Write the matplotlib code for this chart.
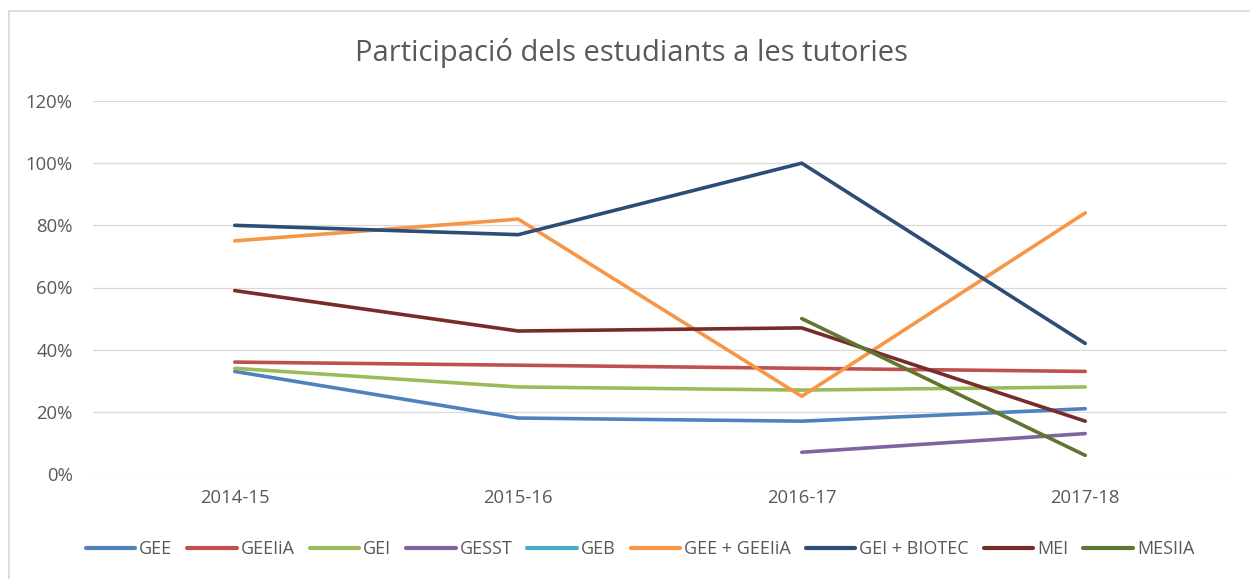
import numpy as np
import matplotlib
matplotlib.use("Agg")
import matplotlib.pyplot as plt
from matplotlib.lines import Line2D
from matplotlib.ticker import FuncFormatter

nan = np.nan
categories = ["2014-15", "2015-16", "2016-17", "2017-18"]
legend_labels = ["GEE", "GEEIiA", "GEI", "GESST", "GEB", "GEE + GEEIiA", "GEI + BIOTEC", "MEI", "MESIIA"]
gee = [0.33, 0.18, 0.17, 0.21]
geeiia = [0.36, 0.35, 0.34, 0.33]
gei = [0.34, 0.28, 0.27, 0.28]
gesst = [nan, nan, 0.07, 0.13]
geb = [nan, nan, nan, nan]
gee_geeiia = [0.75, 0.82, 0.25, 0.84]
gei_biotec = [0.80, 0.77, 1.00, 0.42]
mei = [0.59, 0.46, 0.47, 0.17]
mesiia = [nan, nan, 0.50, 0.06]
values = [gee, geeiia, gei, gesst, geb, gee_geeiia, gei_biotec, mei, mesiia]
colors = ["#4F81BD", "#C0504D", "#9BBB59", "#8064A2", "#4BACC6", "#F79646", "#2C4D75", "#772C2A", "#5F7530"]
title = "Participació dels estudiants a les tutories"
yticks = [0, 0.2, 0.4, 0.6, 0.8, 1.0, 1.2]

plt.rcParams['font.family'] = ['Open Sans', 'DejaVu Sans']
text_color = "#595959"

fig = plt.figure(figsize=(12.5, 5.79), dpi=100)
W, H = 1250, 579
ax = fig.add_axes([93 / W, 1 - 474 / H, (1227 - 93) / W, (474 - 101) / H])

x = np.arange(len(categories))
for name, vals, c in zip(legend_labels, values, colors):
    ax.plot(x, vals, color=c, lw=2.6, solid_capstyle='round', solid_joinstyle='round', label=name)

ax.set_xlim(-0.5, len(categories) - 0.5)
ax.set_ylim(0, 1.2)
ax.set_yticks(yticks)
ax.yaxis.set_major_formatter(FuncFormatter(lambda v, p: f"{v*100:.0f}%"))
ax.set_xticks(x)
ax.set_xticklabels(categories)
ax.grid(axis='y', color='#D9D9D9', lw=0.9)
ax.set_axisbelow(True)
for s in ax.spines.values():
    s.set_visible(False)
ax.tick_params(axis='both', length=0, labelsize=13.3, labelcolor=text_color)
ax.tick_params(axis='y', pad=14.5)
ax.tick_params(axis='x', pad=11)

fig.text(631 / W, 1 - 53 / H, title, ha='center', va='center', fontsize=21, color=text_color)

handles = [Line2D([0], [0], color=c, lw=3.0, solid_capstyle='round') for c in colors]
fig.legend(handles, legend_labels, loc='center', bbox_to_anchor=(640 / W, 1 - 549 / H), ncol=len(colors),
           frameon=False, fontsize=13, labelcolor=text_color, handlelength=2.75, handletextpad=0.22,
           columnspacing=0.82)

# chart border (left and top visible)
fig.add_artist(Line2D([9 / W, 9 / W], [0, 1 - 11 / H], transform=fig.transFigure, color='#D9D9D9', lw=1.2))
fig.add_artist(Line2D([9 / W, 1], [1 - 11 / H, 1 - 11 / H], transform=fig.transFigure, color='#D9D9D9', lw=1.2))

fig.savefig("out.png", dpi=100, facecolor='white')
